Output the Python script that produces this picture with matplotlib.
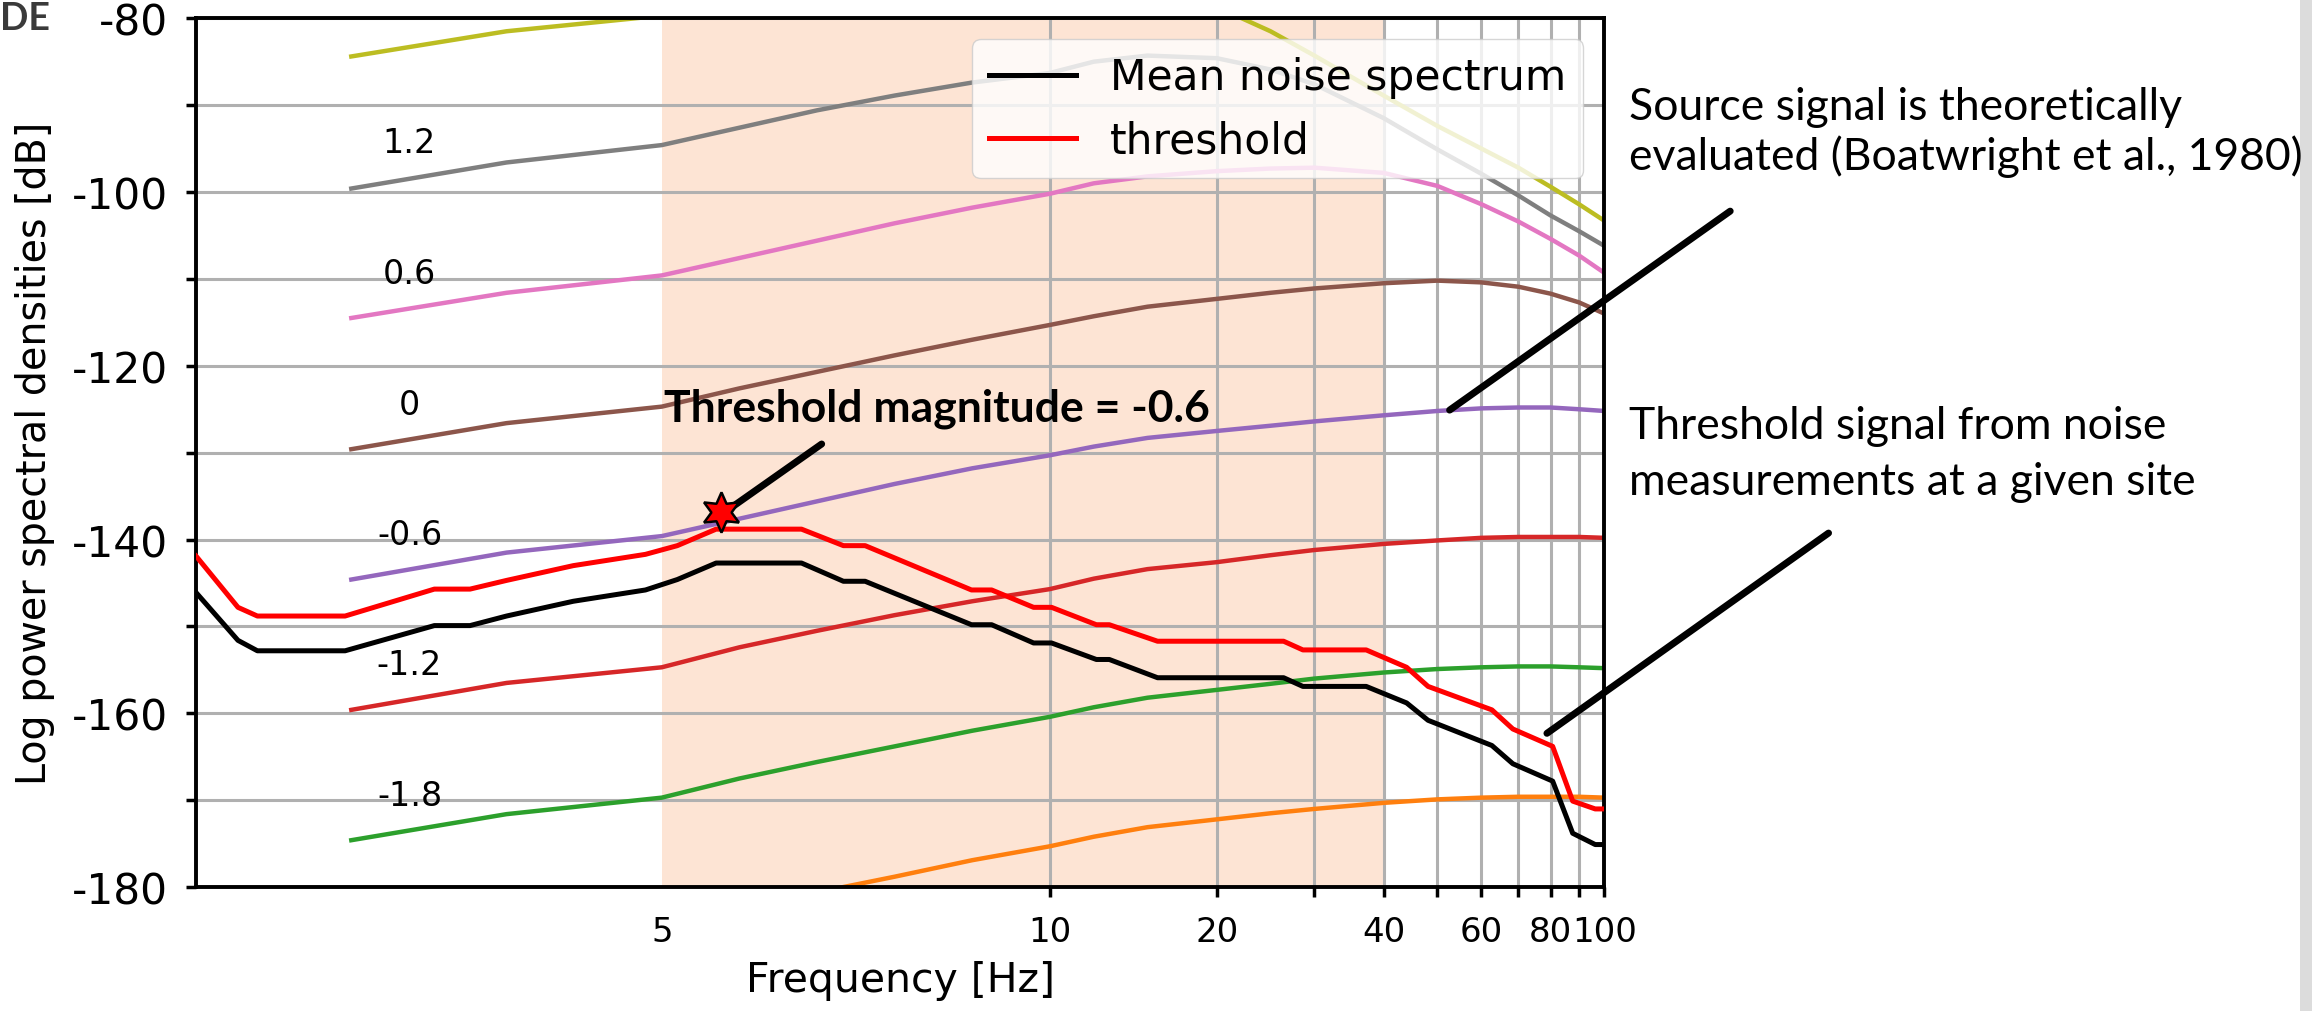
import matplotlib.pyplot as plt
from matplotlib.patches import Rectangle
from matplotlib.ticker import NullLocator

# theoretical source spectra, sampled at these frequencies [Hz]
src_freq = [1, 3, 5, 6, 7, 8, 9, 10, 12, 15, 20, 25, 30, 40, 50, 60, 70, 80, 90, 100]
spec_p18 = [-84.4, -81.5, -79.7, -78.0, -76.6, -75.6, -75.0, -74.7, -74.8, -76.0, -78.7, -81.5,
            -84.3, -88.9, -92.4, -95.0, -97.2, -99.4, -101.4, -103.3]
spec_p12 = [-99.6, -96.6, -94.6, -92.6, -90.6, -88.9, -87.4, -86.3, -85.0, -84.3, -84.6, -85.9,
            -87.6, -91.5, -95.1, -97.9, -100.4, -102.7, -104.5, -106.2]
spec_p06 = [-114.5, -111.6, -109.6, -107.6, -105.6, -103.6, -101.8, -100.2, -99.0, -98.2, -97.6, -97.3,
            -97.2, -97.8, -99.3, -101.4, -103.4, -105.4, -107.3, -109.3]
spec_00 = [-129.6, -126.6, -124.7, -122.6, -120.7, -118.8, -117.0, -115.3, -114.3, -113.2, -112.3, -111.6,
           -111.1, -110.5, -110.2, -110.4, -110.9, -111.7, -112.7, -114.0]
spec_n06 = [-144.6, -141.5, -139.6, -137.6, -135.6, -133.6, -131.8, -130.3, -129.3, -128.3, -127.5, -126.9,
            -126.4, -125.7, -125.2, -124.9, -124.8, -124.8, -125.0, -125.2]
spec_n12 = [-159.6, -156.5, -154.7, -152.4, -150.5, -148.7, -147.1, -145.7, -144.5, -143.4, -142.6, -141.8,
            -141.2, -140.5, -140.1, -139.8, -139.7, -139.7, -139.7, -139.8]
spec_n18 = [-174.6, -171.6, -169.7, -167.5, -165.6, -163.8, -162.0, -160.4, -159.3, -158.2, -157.3, -156.6,
            -156.0, -155.3, -154.9, -154.7, -154.6, -154.6, -154.7, -154.8]
spec_n24 = [-189.6, -186.6, -184.7, -182.5, -180.6, -178.8, -176.9, -175.3, -174.2, -173.1, -172.2, -171.5,
            -171.0, -170.3, -169.9, -169.7, -169.6, -169.6, -169.6, -169.7]
spectra = [spec_p18, spec_p12, spec_p06, spec_00, spec_n06, spec_n12, spec_n18, spec_n24]
spec_colors = ['#bcbd22', '#7f7f7f', '#e377c2', '#8c564b', '#9467bd', '#d62728', '#2ca02c', '#ff7f0e']

mag_labels = ['1.2', '0.6', '0', '-0.6', '-1.2', '-1.8']
mag_label_db = [-94.3, -109.4, -124.5, -139.4, -154.4, -169.5]
mag_label_f = 1.75

# measured noise at the site
noise_freq = [-1, -0.46, -0.21, 0.92, 2.07, 2.53, 3.0, 3.86, 4.79, 5.2, 5.7, 6.8, 7.34, 7.62, 8.99, 9.25,
              9.79, 10.07, 12.13, 12.8, 15.64, 26.4, 28.6, 37.2, 44.0, 48.1, 62.7, 68.4, 80.7, 87.7, 96.3, 100]
noise_mean = [-146.1, -151.6, -152.8, -152.8, -149.9, -149.9, -148.8, -147.1, -145.8, -144.6, -142.7, -142.7,
              -144.8, -144.8, -149.8, -149.8, -151.9, -151.9, -153.8, -153.8, -155.9, -155.9, -156.9, -156.9,
              -158.8, -160.8, -163.7, -165.8, -167.8, -173.8, -175.1, -175.1]
noise_thr = [-141.9, -147.8, -148.8, -148.8, -145.7, -145.7, -144.7, -143.0, -141.7, -140.7, -138.8, -138.8,
             -140.7, -140.7, -145.8, -145.8, -147.8, -147.8, -149.8, -149.8, -151.7, -151.7, -152.7, -152.7,
             -154.7, -156.9, -159.6, -161.8, -163.8, -170.1, -171.0, -171.0]

star_f, star_db = 5.76, -136.8
band = (5, 40)

x_ticks = [5, 10, 20, 30, 40, 50, 60, 70, 80, 90, 100]
x_ticklabels = ['5', '10', '20', '', '40', '', '60', '', '80', '', '100']
y_ticks = list(range(-180, -79, 10))
y_ticklabels = [str(v) if v % 20 == 0 else '' for v in y_ticks]

fig = plt.figure(figsize=(23.12, 10.12), dpi=100)
ax = fig.add_axes([0.0848, 0.1224, 0.6091, 0.8586])
ax.set_xscale('symlog', linthresh=10, linscale=1.26)

ax.axvspan(*band, color='#fde4d4', lw=0, zorder=0.5)

for vals, col in zip(spectra, spec_colors):
    ax.plot(src_freq, vals, color=col, lw=3.2, zorder=2)

ax.plot(noise_freq, noise_mean, color='black', lw=3.6, label='Mean noise spectrum', zorder=3)
ax.plot(noise_freq, noise_thr, color='red', lw=3.6, label='threshold', zorder=3)
ax.plot([star_f], [star_db], marker=(6, 1, 0), ms=29, mfc='red', mec='black', mew=1.8,
        ls='none', zorder=5)

for lab, yv in zip(mag_labels, mag_label_db):
    ax.text(mag_label_f, yv, lab, fontsize=24, ha='center', va='center')

ax.set_xlim(-1, 100)
ax.set_ylim(-180, -80)
ax.set_xticks(x_ticks)
ax.set_xticklabels(x_ticklabels)
ax.xaxis.set_minor_locator(NullLocator())
ax.set_yticks(y_ticks)
ax.set_yticklabels(y_ticklabels)
ax.grid(True, color='#b0b0b0', lw=2.2)
ax.tick_params(length=7, width=2.5, pad=13)
ax.tick_params(axis='y', labelsize=30.5)
ax.tick_params(axis='x', labelsize=24.5)
t5 = ax.xaxis.get_major_ticks()[0]
t5.tick1line.set_visible(False)
t5.gridline.set_visible(False)
for s in ax.spines.values():
    s.set_linewidth(2.8)

ax.set_xlabel('Frequency [Hz]', fontsize=29.5, labelpad=9)
ax.set_ylabel('Log power spectral densities [dB]', fontsize=28.5, labelpad=12)
ax.legend(loc='upper right', fontsize=30.5, handlelength=2.05)

# pointer lines
line_kw = dict(arrowstyle='-', lw=5, color='black', shrinkA=0, shrinkB=0)
ax.annotate('', xy=(5.93, -136.1), xytext=(7.06, -129.0), arrowprops=line_kw, annotation_clip=False)
ax.annotate('', xy=(52.6, -125.1), xytext=(168.7, -102.2), arrowprops=line_kw, annotation_clip=False)
ax.annotate('', xy=(78.8, -162.3), xytext=(253.8, -139.25), arrowprops=line_kw, annotation_clip=False)

ax.text(5.03, -124.8, 'Threshold magnitude = -0.6', fontsize=32, fontweight='bold',
        family='Lato', ha='left', va='center', zorder=6)
fig.text(0.7047, 0.869, 'Source signal is theoretically\nevaluated (Boatwright et al., 1980)',
         fontsize=32, family='Lato', ha='left', va='center', linespacing=1.22)
fig.text(0.7047, 0.551, 'Threshold signal from noise\nmeasurements at a given site',
         fontsize=32, family='Lato', ha='left', va='center', linespacing=1.44)
fig.text(0.0, 0.998, 'DE', fontsize=27, family='Lato', fontweight='bold', color='#3a3a3a',
         ha='left', va='top')

fig.add_artist(Rectangle((0.9948, 0), 0.0052, 1, transform=fig.transFigure, color='#dcdcdc', lw=0))

fig.savefig('out.png', dpi=100)
